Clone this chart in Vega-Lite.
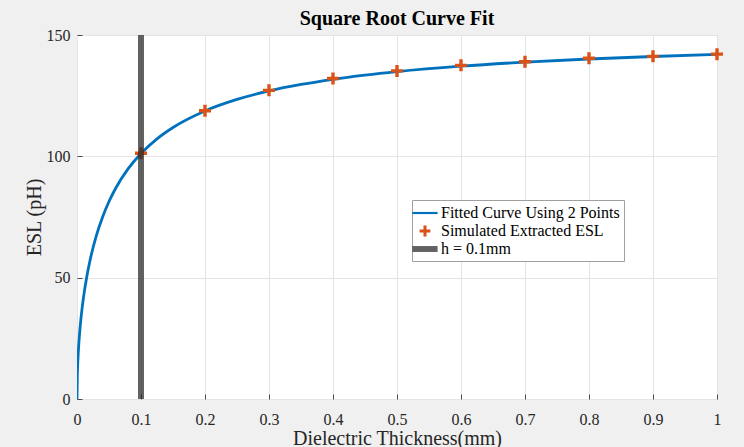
{
  "$schema": "https://vega.github.io/schema/vega-lite/v6.json",
  "width": 640,
  "height": 364,
  "autosize": {"type": "none"},
  "padding": {"left": 77, "top": 35, "right": 27, "bottom": 48},
  "background": "#f0f0f0",
  "title": {
    "text": "Square Root Curve Fit",
    "font": "Liberation Serif",
    "fontSize": 20,
    "fontWeight": "bold",
    "color": "#000000",
    "anchor": "middle",
    "offset": -2
  },
  "datasets": {
    "curve": [
      {"h": 0, "esl": 0, "series": "Fitted Curve Using 2 Points"},
      {"h": 0.0005, "esl": 9.66, "series": "Fitted Curve Using 2 Points"},
      {"h": 0.001, "esl": 13.63, "series": "Fitted Curve Using 2 Points"},
      {"h": 0.002, "esl": 19.2, "series": "Fitted Curve Using 2 Points"},
      {"h": 0.004, "esl": 26.93, "series": "Fitted Curve Using 2 Points"},
      {"h": 0.006, "esl": 32.72, "series": "Fitted Curve Using 2 Points"},
      {"h": 0.01, "esl": 41.59, "series": "Fitted Curve Using 2 Points"},
      {"h": 0.015, "esl": 49.99, "series": "Fitted Curve Using 2 Points"},
      {"h": 0.02, "esl": 56.69, "series": "Fitted Curve Using 2 Points"},
      {"h": 0.03, "esl": 67.08, "series": "Fitted Curve Using 2 Points"},
      {"h": 0.04, "esl": 75.01, "series": "Fitted Curve Using 2 Points"},
      {"h": 0.05, "esl": 81.37, "series": "Fitted Curve Using 2 Points"},
      {"h": 0.06, "esl": 86.63, "series": "Fitted Curve Using 2 Points"},
      {"h": 0.08, "esl": 94.92, "series": "Fitted Curve Using 2 Points"},
      {"h": 0.1, "esl": 101.19, "series": "Fitted Curve Using 2 Points"},
      {"h": 0.125, "esl": 107.23, "series": "Fitted Curve Using 2 Points"},
      {"h": 0.15, "esl": 111.9, "series": "Fitted Curve Using 2 Points"},
      {"h": 0.2, "esl": 118.71, "series": "Fitted Curve Using 2 Points"},
      {"h": 0.25, "esl": 123.45, "series": "Fitted Curve Using 2 Points"},
      {"h": 0.3, "esl": 126.94, "series": "Fitted Curve Using 2 Points"},
      {"h": 0.35, "esl": 129.62, "series": "Fitted Curve Using 2 Points"},
      {"h": 0.4, "esl": 131.75, "series": "Fitted Curve Using 2 Points"},
      {"h": 0.45, "esl": 133.47, "series": "Fitted Curve Using 2 Points"},
      {"h": 0.5, "esl": 134.91, "series": "Fitted Curve Using 2 Points"},
      {"h": 0.6, "esl": 137.15, "series": "Fitted Curve Using 2 Points"},
      {"h": 0.7, "esl": 138.82, "series": "Fitted Curve Using 2 Points"},
      {"h": 0.8, "esl": 140.11, "series": "Fitted Curve Using 2 Points"},
      {"h": 0.9, "esl": 141.14, "series": "Fitted Curve Using 2 Points"},
      {"h": 1.0, "esl": 141.98, "series": "Fitted Curve Using 2 Points"}
    ],
    "simulated": [
      {"h": 0.1, "esl": 101.3, "series": "Simulated Extracted ESL"},
      {"h": 0.2, "esl": 118.8, "series": "Simulated Extracted ESL"},
      {"h": 0.3, "esl": 127.2, "series": "Simulated Extracted ESL"},
      {"h": 0.4, "esl": 132.1, "series": "Simulated Extracted ESL"},
      {"h": 0.5, "esl": 135.2, "series": "Simulated Extracted ESL"},
      {"h": 0.6, "esl": 137.5, "series": "Simulated Extracted ESL"},
      {"h": 0.7, "esl": 139.0, "series": "Simulated Extracted ESL"},
      {"h": 0.8, "esl": 140.4, "series": "Simulated Extracted ESL"},
      {"h": 0.9, "esl": 141.2, "series": "Simulated Extracted ESL"},
      {"h": 1.0, "esl": 142.1, "series": "Simulated Extracted ESL"}
    ],
    "thickness": [
      {"h": 0.1, "series": "h = 0.1mm"}
    ]
  },
  "layer": [
    {
      "data": {"name": "curve"},
      "mark": {"type": "line", "strokeWidth": 2.8, "interpolate": "monotone", "clip": true},
      "encoding": {
        "x": {
          "field": "h", "type": "quantitative",
          "scale": {"domain": [0, 1], "nice": false, "zero": false},
          "axis": {
            "title": "Dielectric Thickness(mm)",
            "values": [0, 0.1, 0.2, 0.3, 0.4, 0.5, 0.6, 0.7, 0.8, 0.9, 1],
            "format": "~g",
            "labelFlush": false,
            "tickSize": -5,
            "labelPadding": 17,
            "titleY": 39,
            "titleBaseline": "middle"
          }
        },
        "y": {
          "field": "esl", "type": "quantitative",
          "scale": {"domain": [0, 150], "nice": false},
          "axis": {
            "title": "ESL (pH)",
            "values": [0, 50, 100, 150],
            "labelFlush": false,
            "tickSize": -5,
            "labelPadding": 12,
            "titleX": -43,
            "titleY": 182,
            "titleBaseline": "middle"
          }
        },
        "color": {
          "field": "series", "type": "nominal",
          "scale": {
            "domain": ["Fitted Curve Using 2 Points", "Simulated Extracted ESL", "h = 0.1mm"],
            "range": ["#0072bd", "#d95319", "#262626"]
          },
          "legend": {
            "title": null,
            "orient": "none",
            "legendX": 335,
            "legendY": 165,
            "padding": 4,
            "fillColor": "#ffffff",
            "strokeColor": "#a0a0a0",
            "labelFont": "Liberation Serif",
            "labelFontSize": 16,
            "labelColor": "#000000",
            "labelOffset": 7,
            "rowPadding": 1,
            "symbolSize": 324,
            "symbolStrokeWidth": 0,
            "labelLimit": 400,
            "encode": {
              "symbols": {
                "update": {
                  "shape": {"scale": "shape", "field": "value"},
                  "fill": {"scale": "color", "field": "value"},
                  "fillOpacity": {"signal": "datum.value === 'h = 0.1mm' ? 0.72 : 1"},
                  "opacity": {"value": 1},
                  "stroke": {"value": "transparent"},
                  "strokeWidth": {"value": 0}
                }
              }
            }
          }
        }
      }
    },
    {
      "data": {"name": "simulated"},
      "mark": {"type": "point", "filled": true, "size": 400, "opacity": 1, "strokeWidth": 0},
      "encoding": {
        "x": {"field": "h", "type": "quantitative"},
        "y": {"field": "esl", "type": "quantitative"},
        "color": {"field": "series", "type": "nominal"},
        "shape": {
          "field": "series", "type": "nominal",
          "scale": {
            "domain": ["Fitted Curve Using 2 Points", "Simulated Extracted ESL", "h = 0.1mm"],
            "range": [
              "M-1.4,-0.12H1.4V0.12H-1.4Z",
              "M-0.17,-0.6H0.17V-0.17H0.6V0.17H0.17V0.6H-0.17V0.17H-0.6V-0.17H-0.17Z",
              "M-1.4,-0.33H1.4V0.33H-1.4Z"
            ]
          },
          "legend": {"title": null}
        }
      }
    },
    {
      "data": {"name": "thickness"},
      "mark": {"type": "rule", "strokeWidth": 6, "opacity": 0.72},
      "encoding": {
        "x": {"field": "h", "type": "quantitative"},
        "color": {"field": "series", "type": "nominal"}
      }
    }
  ],
  "config": {
    "view": {"stroke": "#9a9a9a", "fill": "#ffffff", "strokeWidth": 1},
    "axis": {
      "labelFont": "Liberation Serif",
      "titleFont": "Liberation Serif",
      "labelColor": "#262626",
      "titleColor": "#262626",
      "labelFontSize": 16,
      "titleFontSize": 20,
      "titleFontWeight": "normal",
      "domain": false,
      "tickColor": "#4a4a4a",
      "gridColor": "#e4e4e4",
      "gridWidth": 1
    }
  }
}
